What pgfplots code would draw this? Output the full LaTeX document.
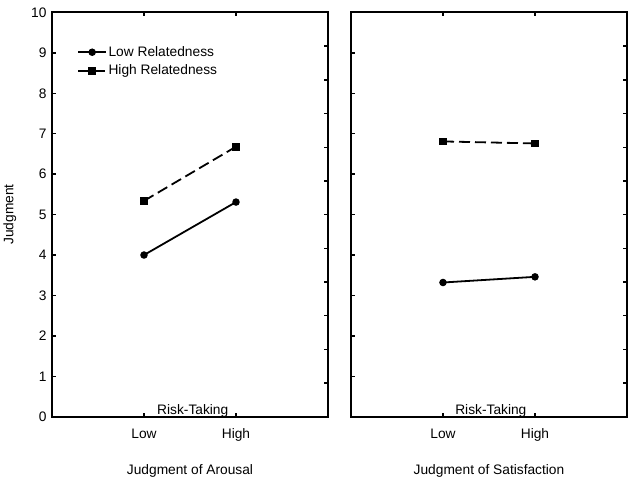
\documentclass[border=0pt]{standalone}
\usepackage{pgfplots}
\pgfplotsset{compat=1.18}
\usepackage{fontspec}
\setmainfont{Liberation Sans}
\newcommand{\fs}{\fontsize{13.8}{16}\selectfont}
\pgfplotsset{
  panel/.style={
    scale only axis, width=276bp, height=404.2bp,
    xmin=0, xmax=3, ymin=0, ymax=10,
    xtick={1,2}, xticklabels={Low,High},
    xtick pos=both, xticklabel pos=lower,
    ytick={0,1,...,10}, ytick pos=left,
    tick align=inside, major tick length=4bp,
    axis line style={line width=2bp},
    every tick/.style={black, line width=1.4bp},
    /pgf/number format/assume math mode=true,
    tick label style={font=\fs},
    label style={font=\fs},
    xticklabel style={anchor=base, yshift=-21.6bp},
    yticklabel style={xshift=-2bp},
    xlabel style={at={(axis description cs:0.5,0)}, anchor=base, yshift=-57.5bp},
    clip=false,
  },
  rightticks/.style={
    scale only axis, width=276bp, height=404.2bp,
    xmin=0, xmax=3, ymin=0, ymax=12,
    ytick={1,...,11}, yticklabels={},
    axis y line*=right, axis x line=none,
    tick align=inside, major tick length=4.5bp,
    axis line style={line width=2bp},
    every tick/.style={black, line width=1.4bp},
  },
  lowrel/.style={black, line width=1.8bp, mark=*, mark size=2.8bp, mark options={solid}},
  highrel/.style={black, line width=1.8bp, dash pattern=on 11bp off 5bp, mark=square*, mark size=3bp, mark options={solid}},
}
\begin{document}
\begin{tikzpicture}
\path (0,0) rectangle (640bp,479bp);
% left panel
\begin{axis}[panel, at={(52bp,62.3bp)}, anchor=south west,
  xlabel={Judgment of Arousal},
  ylabel={Judgment},
  ylabel style={at={(axis description cs:-0.14,0.5)}, anchor=base},
  legend style={draw=none, fill=none, at={(axis description cs:0.08,0.925)}, anchor=north west,
    font=\fs, row sep=4bp, nodes={inner sep=1.5bp}},
  legend cell align=left,
  legend image code/.code={\draw[mark repeat=2,mark phase=2,#1] plot coordinates {(0bp,0bp)(14bp,0bp)(28bp,0bp)};},
]
\addplot[lowrel] coordinates {(1,4.00) (2,5.31)};
\addlegendentry{Low Relatedness}
\addplot[highrel] coordinates {(1,5.34) (2,6.68)};
\addlegendentry{High Relatedness}
\node[font=\fs, anchor=base] at (axis cs:1.53,0.05) {Risk-Taking};
\end{axis}
\begin{axis}[rightticks, at={(52bp,62.3bp)}, anchor=south west]
\end{axis}
% right panel
\begin{axis}[panel, at={(351bp,62.3bp)}, anchor=south west,
  xlabel={Judgment of Satisfaction},
  yticklabels={},
]
\addplot[lowrel] coordinates {(1,3.32) (2,3.46)};
\addplot[highrel] coordinates {(1,6.81) (2,6.76)};
\node[font=\fs, anchor=base] at (axis cs:1.52,0.05) {Risk-Taking};
\end{axis}
\begin{axis}[rightticks, at={(351bp,62.3bp)}, anchor=south west]
\end{axis}
\end{tikzpicture}
\end{document}
